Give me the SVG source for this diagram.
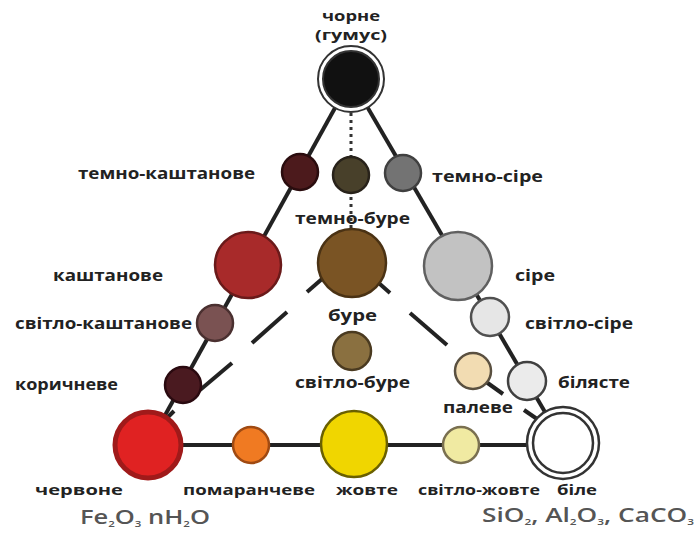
<svg xmlns="http://www.w3.org/2000/svg" width="698" height="534" viewBox="0 0 698 534">
<style>
.lbl{font-family:"Open Sans","Liberation Sans",sans-serif;font-weight:700;font-size:16px;fill:#222}
.sm{font-size:15px}
.chem{font-family:"Open Sans","Liberation Sans",sans-serif;font-weight:600;font-size:20px;fill:#555}
.sub{font-size:9px}
.edge{stroke:#222;stroke-width:4;fill:none;stroke-linecap:butt}
.dash{stroke:#222;stroke-width:4;fill:none}
.dot{stroke:#333;stroke-width:3;stroke-dasharray:3 4;fill:none}
.n{stroke-width:2.5}
</style>
<rect width="698" height="534" fill="#fff"/>
<g id="connectors">
<line class="edge" x1="351" y1="79" x2="148" y2="446"/>
<line class="edge" x1="351" y1="79" x2="563" y2="443"/>
<line class="edge" x1="148" y1="445" x2="563" y2="445"/>
<line class="dot" x1="351" y1="113" x2="351" y2="232"/>
<line class="dash" x1="330" y1="272" x2="307" y2="292"/>
<line class="dash" x1="287" y1="312" x2="252" y2="343"/>
<line class="dash" x1="232" y1="363" x2="200" y2="390"/>
<line class="dash" x1="174" y1="411" x2="165" y2="420"/>
<line class="dash" x1="372" y1="277" x2="390" y2="293"/>
<line class="dash" x1="410" y1="313" x2="447" y2="345"/>
<line class="dash" x1="475" y1="374" x2="503" y2="394"/>
<line class="dash" x1="524" y1="410" x2="540" y2="421"/>
</g>
<g id="chorne">
<circle cx="351" cy="79" r="33" fill="#fff" stroke="#333" stroke-width="2"/>
<circle cx="351" cy="79" r="28" fill="#111" stroke="#333" stroke-width="2"/>
<text class="lbl sm" x="322" y="21" textLength="58" lengthAdjust="spacingAndGlyphs">чорне</text>
<text class="lbl sm" x="315" y="40" textLength="72" lengthAdjust="spacingAndGlyphs">(гумус)</text>
</g>
<g id="temno-kashtanove">
<circle class="n" cx="300" cy="172" r="18" fill="#4c1a1c" stroke="#2a0c0e"/>
<text class="lbl" x="78" y="179" textLength="177" lengthAdjust="spacingAndGlyphs">темно-каштанове</text>
</g>
<g id="temno-bure">
<circle class="n" cx="351" cy="175" r="18" fill="#48402a" stroke="#28221a"/>
<text class="lbl" x="295" y="224" textLength="115" lengthAdjust="spacingAndGlyphs">темно-буре</text>
</g>
<g id="temno-sire">
<circle class="n" cx="403" cy="173" r="18" fill="#737373" stroke="#404040"/>
<text class="lbl" x="432" y="182" textLength="111" lengthAdjust="spacingAndGlyphs">темно-сіре</text>
</g>
<g id="kashtanove">
<circle class="n" cx="248" cy="265" r="33" fill="#a82a2a" stroke="#6a1a1a"/>
<text class="lbl" x="53" y="281" textLength="110" lengthAdjust="spacingAndGlyphs">каштанове</text>
</g>
<g id="bure">
<circle class="n" cx="352" cy="263" r="34" fill="#7a5424" stroke="#4a3214"/>
<text class="lbl" x="328" y="321" textLength="49" lengthAdjust="spacingAndGlyphs">буре</text>
</g>
<g id="sire">
<circle class="n" cx="458" cy="266" r="34" fill="#c2c2c2" stroke="#606060"/>
<text class="lbl" x="515" y="281" textLength="40" lengthAdjust="spacingAndGlyphs">сіре</text>
</g>
<g id="svitlo-kashtanove">
<circle class="n" cx="215" cy="323" r="18" fill="#7a5252" stroke="#4a3030"/>
<text class="lbl" x="15" y="329" textLength="177" lengthAdjust="spacingAndGlyphs">світло-каштанове</text>
</g>
<g id="svitlo-sire">
<circle class="n" cx="490" cy="317" r="19" fill="#e6e6e6" stroke="#505050"/>
<text class="lbl" x="525" y="329" textLength="108" lengthAdjust="spacingAndGlyphs">світло-сіре</text>
</g>
<g id="korychneve">
<circle class="n" cx="183" cy="385" r="18" fill="#4a1a20" stroke="#2a0a10"/>
<text class="lbl" x="15" y="390" textLength="103" lengthAdjust="spacingAndGlyphs">коричневе</text>
</g>
<g id="svitlo-bure">
<circle class="n" cx="352" cy="351" r="19" fill="#8a7040" stroke="#4a3a20"/>
<text class="lbl" x="295" y="388" textLength="115" lengthAdjust="spacingAndGlyphs">світло-буре</text>
</g>
<g id="bilyaste">
<circle class="n" cx="527" cy="381" r="19" fill="#ebebeb" stroke="#404040"/>
<text class="lbl" x="558" y="388" textLength="72" lengthAdjust="spacingAndGlyphs">білясте</text>
</g>
<g id="paleve">
<circle class="n" cx="473" cy="371" r="18" fill="#f2dcb2" stroke="#5a5040"/>
<text class="lbl" x="443" y="413" textLength="70" lengthAdjust="spacingAndGlyphs">палеве</text>
</g>
<g id="chervone">
<circle cx="148" cy="445" r="33" fill="#e02222" stroke="#a01a1a" stroke-width="5"/>
<text class="lbl sm" x="35" y="495" textLength="88" lengthAdjust="spacingAndGlyphs">червоне</text>
<text class="chem" x="80" y="524" textLength="130" lengthAdjust="spacingAndGlyphs">Fe<tspan class="sub" dy="3">2</tspan><tspan dy="-3">O</tspan><tspan class="sub" dy="3">3</tspan><tspan dy="-3"> nH</tspan><tspan class="sub" dy="3">2</tspan><tspan dy="-3">O</tspan></text>
</g>
<g id="pomaranCheve">
<circle class="n" cx="251" cy="445" r="18" fill="#f07a22" stroke="#a04a12"/>
<text class="lbl sm" x="183" y="495" textLength="132" lengthAdjust="spacingAndGlyphs">помаранчеве</text>
</g>
<g id="zhovte">
<circle class="n" cx="354" cy="444" r="33" fill="#f0d600" stroke="#6a6000"/>
<text class="lbl sm" x="336" y="495" textLength="62" lengthAdjust="spacingAndGlyphs">жовте</text>
</g>
<g id="svitlo-zhovte">
<circle class="n" cx="461" cy="445" r="18" fill="#f0eaa2" stroke="#7a7050"/>
<text class="lbl sm" x="418" y="495" textLength="122" lengthAdjust="spacingAndGlyphs">світло-жовте</text>
</g>
<g id="bile">
<circle cx="563" cy="443" r="36" fill="#fff" stroke="#333" stroke-width="2.5"/>
<circle cx="563" cy="443" r="30" fill="#fff" stroke="#333" stroke-width="2.5"/>
<text class="lbl sm" x="557" y="495" textLength="40" lengthAdjust="spacingAndGlyphs">біле</text>
<text class="chem" x="482" y="522" textLength="212" lengthAdjust="spacingAndGlyphs">SiO<tspan class="sub" dy="3">2</tspan><tspan dy="-3">, Al</tspan><tspan class="sub" dy="3">2</tspan><tspan dy="-3">O</tspan><tspan class="sub" dy="3">3</tspan><tspan dy="-3">, CaCO</tspan><tspan class="sub" dy="3">3</tspan></text>
</g>
</svg>
